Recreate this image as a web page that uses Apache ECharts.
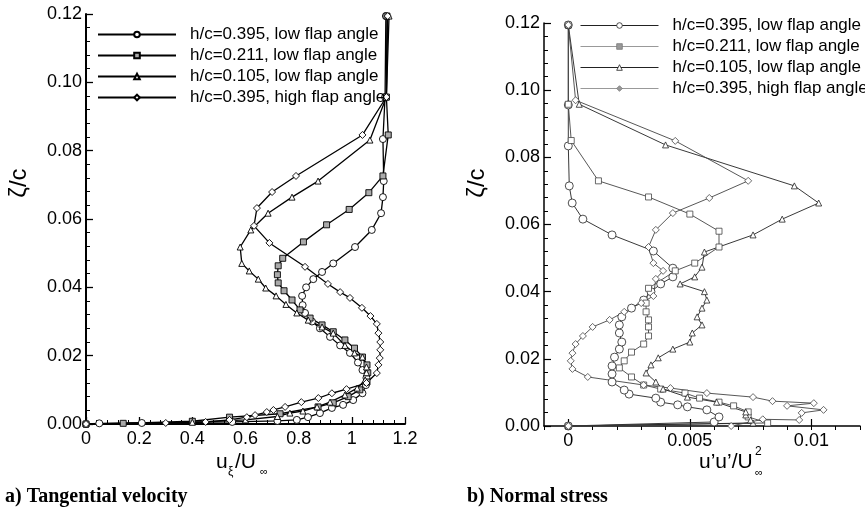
<!DOCTYPE html>
<html>
<head>
<meta charset="utf-8">
<script src="https://cdn.jsdelivr.net/npm/echarts@6/dist/echarts.min.js"></script>
<style>
html,body{margin:0;padding:0;background:#fff;}
#c{width:865px;height:520px;}
</style>
</head>
<body>
<div id="c"></div>
<script>
// ---------- DATA ----------
const seriesNames = [
  'h/c=0.395, low flap angle',
  'h/c=0.211, low flap angle',
  'h/c=0.105, low flap angle',
  'h/c=0.395, high flap angle'
];
const velXTicks = [0, 0.2, 0.4, 0.6, 0.8, 1, 1.2];
const stressXTicks = [0, 0.005, 0.01];

// (a) tangential velocity u_xi/U_inf vs zeta/c
const velLow395 = [[0,0],[0.05,0.0002],[0.21,0.0003],[0.55,0.0006],[0.72,0.0009],[0.793,0.0012],[0.835,0.002],[0.88,0.0032],[0.925,0.0047],[0.967,0.0056],[1.005,0.007],[1.04,0.009],[1.053,0.0114],[1.055,0.0135],[1.04,0.0158],[1.023,0.018],[0.993,0.0208],[0.956,0.023],[0.918,0.0255],[0.88,0.028],[0.85,0.03],[0.824,0.0325],[0.815,0.0348],[0.813,0.0375],[0.828,0.04],[0.855,0.0424],[0.888,0.0445],[0.93,0.047],[1.012,0.0518],[1.075,0.0568],[1.11,0.0617],[1.117,0.0664],[1.12,0.0711],[1.117,0.0834],[1.125,0.0957],[1.128,0.1194]];
const velLow211 = [[0,0],[0.14,0.0002],[0.4,0.0008],[0.54,0.002],[0.73,0.003],[0.873,0.005],[0.93,0.0062],[0.986,0.008],[1.03,0.01],[1.057,0.0123],[1.06,0.015],[1.057,0.0173],[1.04,0.0196],[1.01,0.0222],[0.974,0.0246],[0.93,0.027],[0.888,0.029],[0.843,0.031],[0.805,0.0334],[0.775,0.0363],[0.745,0.039],[0.723,0.0413],[0.72,0.0437],[0.723,0.0463],[0.74,0.0485],[0.818,0.0533],[0.905,0.0583],[0.99,0.0628],[1.064,0.0677],[1.117,0.0726],[1.137,0.0846],[1.13,0.0957],[1.132,0.1194]];
const velLow105 = [[0,0],[0.4,0.0005],[0.6,0.0012],[0.72,0.0022],[0.767,0.0032],[0.816,0.0038],[0.869,0.005],[0.918,0.0064],[0.974,0.0085],[1.02,0.0105],[1.05,0.0129],[1.055,0.015],[1.055,0.0167],[1.04,0.0196],[1.01,0.0208],[0.974,0.023],[0.93,0.0266],[0.888,0.0284],[0.836,0.0304],[0.793,0.0325],[0.752,0.035],[0.715,0.0375],[0.676,0.0398],[0.648,0.0424],[0.614,0.0448],[0.586,0.047],[0.58,0.0518],[0.62,0.0568],[0.685,0.0617],[0.775,0.0664],[0.873,0.0711],[1.068,0.0831],[1.13,0.0957],[1.14,0.1194]];
const velHigh395 = [[0,0],[0.3,0.0003],[0.45,0.0006],[0.54,0.0012],[0.605,0.002],[0.636,0.0026],[0.68,0.0035],[0.705,0.0041],[0.749,0.005],[0.81,0.0064],[0.874,0.0076],[0.925,0.009],[0.98,0.0102],[1.055,0.012],[1.094,0.0149],[1.1,0.0173],[1.105,0.0193],[1.107,0.0217],[1.107,0.024],[1.1,0.0266],[1.094,0.0293],[1.07,0.0316],[1.038,0.034],[0.993,0.0369],[0.956,0.0386],[0.91,0.041],[0.824,0.046],[0.69,0.053],[0.632,0.058],[0.643,0.0632],[0.7,0.0679],[0.79,0.0726],[1.04,0.0846],[1.13,0.0957],[1.135,0.1194]];

// (b) normal stress u'u'/U_inf^2 vs zeta/c
const strLow395 = [[0,0],[0.006,0.0012],[0.0062,0.0027],[0.0057,0.0048],[0.0049,0.0057],[0.0045,0.0063],[0.0038,0.0071],[0.0036,0.0083],[0.0025,0.0095],[0.0023,0.0107],[0.0018,0.0131],[0.0018,0.0155],[0.0018,0.0179],[0.0019,0.0205],[0.0021,0.0229],[0.0022,0.025],[0.0021,0.0277],[0.0021,0.0301],[0.0022,0.0325],[0.0026,0.0351],[0.0031,0.0375],[0.0034,0.04],[0.0038,0.0423],[0.0043,0.0444],[0.0043,0.047],[0.0035,0.0521],[0.0018,0.0569],[0.0006,0.0616],[0.00016,0.0664],[0.00004,0.0715],[0,0.0834],[0,0.0956],[0,0.1194]];
const strLow211 = [[0,0],[0.0082,0.0009],[0.0074,0.0027],[0.0074,0.0042],[0.0068,0.006],[0.0062,0.0071],[0.0054,0.0083],[0.0048,0.0098],[0.0038,0.011],[0.0031,0.0122],[0.0026,0.0146],[0.0021,0.0173],[0.0023,0.0194],[0.0026,0.022],[0.0031,0.0244],[0.0033,0.0268],[0.0033,0.0295],[0.0033,0.0316],[0.0032,0.034],[0.0032,0.0366],[0.0033,0.041],[0.0044,0.0462],[0.0052,0.0485],[0.0062,0.0533],[0.0062,0.058],[0.005,0.0631],[0.0033,0.0682],[0.00124,0.073],[0.00012,0.085],[0,0.0958],[0,0.1194]];
const strLow105 = [[0,0],[0.0076,0.0009],[0.0075,0.0018],[0.0073,0.0033],[0.0073,0.0042],[0.0061,0.0071],[0.0049,0.0086],[0.0039,0.011],[0.0036,0.0131],[0.0032,0.0158],[0.0034,0.0182],[0.0037,0.0203],[0.0043,0.0229],[0.005,0.025],[0.0051,0.0277],[0.0055,0.0301],[0.0053,0.0325],[0.0055,0.0351],[0.0057,0.0375],[0.0056,0.04],[0.0046,0.0423],[0.0052,0.0444],[0.0055,0.0473],[0.0056,0.0518],[0.0076,0.0569],[0.0088,0.0616],[0.0103,0.0664],[0.0093,0.0715],[0.004,0.0837],[0.00045,0.0958],[0,0.1194]];
const strHigh395 = [[0,0],[0.0067,0],[0.008,0.002],[0.0095,0.0018],[0.0096,0.0039],[0.0105,0.0048],[0.009,0.006],[0.0101,0.0068],[0.0084,0.0074],[0.0076,0.0086],[0.0057,0.0098],[0.0042,0.0113],[0.0031,0.0122],[0.0008,0.0146],[0.00017,0.017],[0.0001,0.0194],[0.00017,0.0217],[0.0003,0.0244],[0.0006,0.0268],[0.001,0.0295],[0.0017,0.0316],[0.0023,0.034],[0.003,0.0366],[0.0035,0.0387],[0.0036,0.0438],[0.0039,0.0462],[0.0035,0.0485],[0.0033,0.0533],[0.0036,0.0584],[0.0043,0.0634],[0.0058,0.0679],[0.0074,0.073],[0.0044,0.0849],[0.0003,0.097],[0,0.1194]];

// ---------- CHART ----------
const FONT = 'Liberation Sans, Arial, Helvetica, sans-serif';
const chart = echarts.init(document.getElementById('c'), null, {renderer: 'canvas'});

const symbols = ['circle', 'rect', 'triangle', 'diamond'];
const leftFills = ['#fff', '#aaa', '#fff', '#fff'];
const leftSizes = [7, 6, 6, 7];
const rightSizes = [8, 6, 6, 7];
const rightLineCols = ['#222', '#444', '#222', '#444'];

function mkSeries(name, data, idx, gi) {
  const left = gi === 0;
  return {
    type: 'line',
    name: name,
    data: data,
    xAxisIndex: gi, yAxisIndex: gi,
    symbol: symbols[idx],
    symbolSize: left ? leftSizes[idx] : rightSizes[idx],
    showAllSymbol: true,
    clip: false,
    lineStyle: {color: left ? '#000' : rightLineCols[idx], width: left ? 1.3 : 0.9},
    itemStyle: {color: left ? leftFills[idx] : '#fff', borderColor: left ? '#000' : rightLineCols[idx], borderWidth: left ? 0.9 : 0.8},
    emphasis: {disabled: true},
    z: 3
  };
}

const velData = [velLow395, velLow211, velLow105, velHigh395];
const strData = [strLow395, strLow211, strLow105, strHigh395];
const series = [];
seriesNames.forEach((n, i) => series.push(mkSeries(n, velData[i], i, 0)));
seriesNames.forEach((n, i) => series.push(mkSeries(n, strData[i], i, 1)));

function axisCommon(extra) {
  return Object.assign({
    type: 'value',
    splitLine: {show: false},
    minorSplitLine: {show: false},
    axisLine: {show: true, onZero: false, lineStyle: {color: '#000', width: 2}},
    axisTick: {show: true, inside: true, length: 7, lineStyle: {color: '#000', width: 1.3}},
    minorTick: {show: true, splitNumber: 5, length: 4, lineStyle: {color: '#000', width: 1}},
    axisLabel: {color: '#000', fontSize: 18, fontFamily: FONT, margin: 6}
  }, extra);
}

const legendText = {color: '#000', fontSize: 17, fontFamily: FONT, padding: [0, 0, 0, 9]};

const option = {
  animation: false,
  backgroundColor: '#fff',
  grid: [
    {left: 86, top: 14, width: 319, height: 410, outerBoundsMode: 'none', containLabel: false},
    {left: 544, top: 23, width: 316, height: 403, outerBoundsMode: 'none', containLabel: false}
  ],
  xAxis: [
    axisCommon({gridIndex: 0, min: 0, max: 1.2, interval: 0.2,
      axisLabel: {color: '#000', fontSize: 18, fontFamily: FONT, margin: 6,
        formatter: v => String(parseFloat(v.toFixed(2)))}}),
    axisCommon({gridIndex: 1, min: -0.001, max: 0.012,
      axisLine: {show: true, onZero: false, lineStyle: {color: '#000', width: 1.5}},
      axisTick: {show: true, inside: true, length: 7, customValues: stressXTicks, lineStyle: {color: '#000', width: 1.2}},
      minorTick: {show: false},
      axisLabel: {color: '#000', fontSize: 18, fontFamily: FONT, margin: 6, customValues: stressXTicks,
        formatter: v => String(parseFloat(v.toFixed(4)))}}),
    {type: 'value', gridIndex: 1, min: -0.001, max: 0.012, interval: 0.001,
      axisLine: {show: false}, splitLine: {show: false},
      axisLabel: {show: false},
      axisTick: {show: true, inside: true, length: 4, lineStyle: {color: '#000', width: 1}}}
  ],
  yAxis: [
    axisCommon({gridIndex: 0, min: 0, max: 0.12, interval: 0.02,
      axisLabel: {color: '#000', fontSize: 18, fontFamily: FONT, margin: 4, formatter: v => v.toFixed(2)}}),
    axisCommon({gridIndex: 1, min: 0, max: 0.12, interval: 0.02,
      axisLine: {show: true, onZero: false, lineStyle: {color: '#000', width: 1.5}},
      axisTick: {show: true, inside: true, length: 7, lineStyle: {color: '#000', width: 1.2}},
      axisLabel: {color: '#000', fontSize: 18, fontFamily: FONT, margin: 4, formatter: v => v.toFixed(2)}})
  ],
  legend: [
    {
      left: 97, top: 26, orient: 'vertical', itemWidth: 78, itemHeight: 7, itemGap: 4, padding: 0,
      selectedMode: false, textStyle: legendText,
      data: seriesNames.map(n => ({name: n}))
    },
    {
      left: 580, top: 17, orient: 'vertical', itemWidth: 78, itemHeight: 7, itemGap: 4, padding: 0,
      selectedMode: false, textStyle: legendText,
      data: seriesNames.map((n, i) => ({
        name: n,
        lineStyle: {color: (i === 1 || i === 3) ? '#999' : '#222', width: 1},
        itemStyle: {color: (i === 1 || i === 3) ? '#999' : '#fff', borderColor: (i === 1 || i === 3) ? '#777' : '#222', borderWidth: 0.8}
      }))
    }
  ],
  graphic: [
    {type: 'text', x: 19, y: 183, rotation: Math.PI / 2,
      style: {text: 'ζ/c', font: '24px ' + FONT, fill: '#000', align: 'center', verticalAlign: 'middle'}},
    {type: 'text', x: 477, y: 183, rotation: Math.PI / 2,
      style: {text: 'ζ/c', font: '24px ' + FONT, fill: '#000', align: 'center', verticalAlign: 'middle'}},
    // u_xi / U_inf
    {type: 'text', x: 216, y: 462, style: {text: 'u', font: '21px ' + FONT, fill: '#000', verticalAlign: 'middle'}},
    {type: 'text', x: 228, y: 472, style: {text: 'ξ', font: '12px ' + FONT, fill: '#000', verticalAlign: 'middle'}},
    {type: 'text', x: 235, y: 462, style: {text: '/U', font: '21px ' + FONT, fill: '#000', verticalAlign: 'middle'}},
    {type: 'text', x: 260, y: 472, style: {text: '∞', font: '11px ' + FONT, fill: '#000', verticalAlign: 'middle'}},
    // u'u' / U_inf^2
    {type: 'text', x: 699, y: 462, style: {text: 'u’u’/U', font: '21px ' + FONT, fill: '#000', verticalAlign: 'middle'}},
    {type: 'text', x: 755, y: 452, style: {text: '2', font: '12px ' + FONT, fill: '#000', verticalAlign: 'middle'}},
    {type: 'text', x: 755, y: 473, style: {text: '∞', font: '11px ' + FONT, fill: '#000', verticalAlign: 'middle'}},
    // captions
    {type: 'text', x: 5, y: 497, style: {text: 'a) Tangential velocity', font: 'bold 20px Liberation Serif, Times New Roman, serif', fill: '#000', verticalAlign: 'middle'}},
    {type: 'text', x: 467, y: 497, style: {text: 'b) Normal stress', font: 'bold 20px Liberation Serif, Times New Roman, serif', fill: '#000', verticalAlign: 'middle'}}
  ],
  series: series
};
chart.setOption(option);
</script>
</body>
</html>
